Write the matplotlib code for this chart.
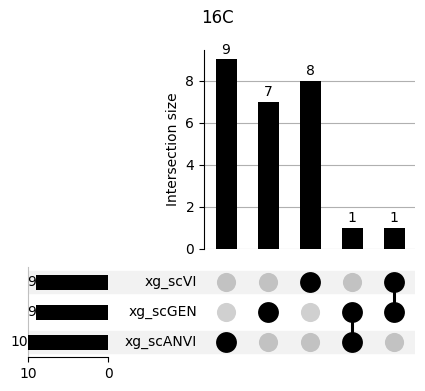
import matplotlib
matplotlib.use("Agg")
import matplotlib.pyplot as plt

# sets (bottom row first) and their totals
set_names = ["xg_scANVI", "xg_scGEN", "xg_scVI"]
set_totals = [10, 9, 9]

# intersections: membership per set (same order as set_names) and size
memberships = [
    [1, 0, 0],
    [0, 1, 0],
    [0, 0, 1],
    [1, 1, 0],
    [0, 1, 1],
]
inter_sizes = [9, 7, 8, 1, 1]

W, H = 425, 391
fig = plt.figure(figsize=(W / 100, H / 100), dpi=100)

def box(x0, y0, x1, y1):
    return [x0 / W, 1 - y1 / H, (x1 - x0) / W, (y1 - y0) / H]

ax_bar = fig.add_axes(box(204, 50, 415, 249))
ax_mat = fig.add_axes(box(108, 267, 415, 357))
ax_tot = fig.add_axes(box(28, 267, 108, 357))

n = len(inter_sizes)
xs = list(range(n))
x_left = -(226 - 108) / 42
x_right = n - 1 + 0.5

# intersection bars
ax_bar.bar(xs, inter_sizes, width=0.5, color="black", zorder=3)
for x, v in zip(xs, inter_sizes):
    ax_bar.text(x, v + 0.12, str(v), ha="center", va="bottom", fontsize=10)
ax_bar.set_xlim(-(226 - 204) / 42, x_right)
ax_bar.set_ylim(0, 9.45)
ax_bar.set_yticks([0, 2, 4, 6, 8])
ax_bar.set_xticks([])
ax_bar.set_ylabel("Intersection size")
ax_bar.yaxis.grid(True, color="#b0b0b0", linewidth=0.8)
ax_bar.set_axisbelow(True)
for s in ["top", "right", "bottom"]:
    ax_bar.spines[s].set_visible(False)

# matrix
rows = list(range(len(set_names)))
for r in rows:
    if r % 2 == 0:
        ax_mat.axhspan(r - 0.37, r + 0.37, color="#f2f2f2", zorder=0)
        ax_tot.axhspan(r - 0.37, r + 0.37, color="#f2f2f2", zorder=0)
for i, mem in enumerate(memberships):
    for r in rows:
        if mem[r]:
            ax_mat.scatter(i, r, s=225, color="black", zorder=3, linewidths=0)
        else:
            c = "#c2c2c2" if r % 2 == 0 else "#d0d0d0"
            ax_mat.scatter(i, r, s=190, color=c, zorder=2, linewidths=0)
    on = [r for r in rows if mem[r]]
    if len(on) > 1:
        ax_mat.plot([i, i], [min(on), max(on)], color="black", linewidth=2.2, zorder=2)
for r, name in zip(rows, set_names):
    ax_mat.text(-0.69, r, name, ha="right", va="center", fontsize=10)
ax_mat.set_xlim(x_left, x_right)
ax_mat.set_ylim(-0.5, len(set_names) - 0.5)
ax_mat.axis("off")

# totals
ax_tot.barh(rows, set_totals, height=0.5, color="black", zorder=3)
for r, v in zip(rows, set_totals):
    ax_tot.text(v, r, str(v), ha="right", va="center", fontsize=10)
ax_tot.set_xlim(10, 0)
ax_tot.set_ylim(-0.5, len(set_names) - 0.5)
ax_tot.set_xticks([10, 0])
ax_tot.set_yticks([])
ax_tot.spines["top"].set_visible(False)
ax_tot.spines["right"].set_visible(False)
ax_tot.spines["left"].set_color("#c0c0c0")

fig.text(217 / W, 1 - 18 / H, "16C", ha="center", va="center", fontsize=12)

fig.savefig("out.png", dpi=100)
